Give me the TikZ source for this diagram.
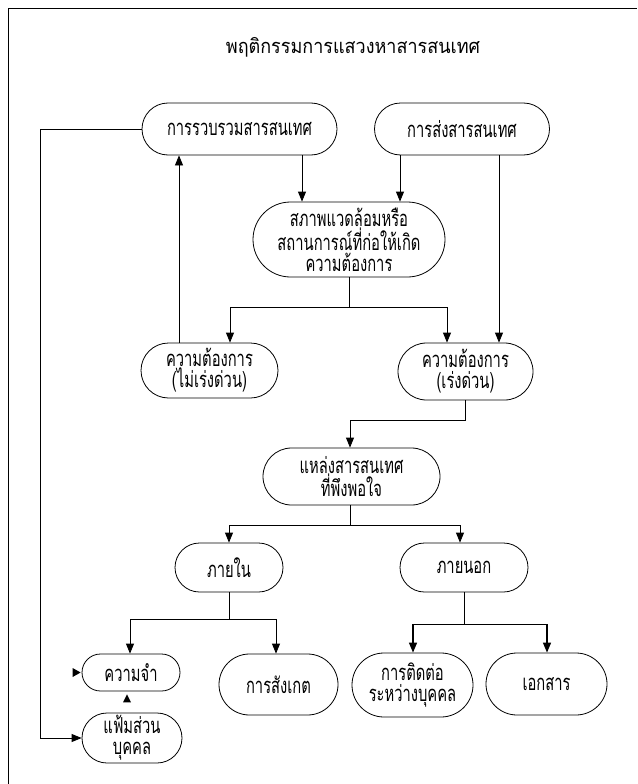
\documentclass[tikz,border=0pt]{standalone}
\usepackage{fontspec}
\newfontfamily\thaifont[Script=Thai,FakeStretch=0.67]{Loma}
\newfontfamily\thaititle[Script=Thai,FakeStretch=0.9]{Loma}
\usetikzlibrary{shapes.misc,arrows.meta,calc}
\begin{document}
\begin{tikzpicture}[x=1pt,y=-1pt,
  box/.style={draw,line width=0.8pt,rounded rectangle,font=\thaifont\fontsize{22}{21}\selectfont,align=center,inner sep=0pt},
  arr/.style={-{Triangle[length=10pt,width=8pt]},line width=0.8pt},
  ln/.style={line width=0.8pt},
  tri/.style={fill=black}]
\useasboundingbox (0,0) rectangle (637,784);
\draw[ln] (8,784) -- (8,8) -- (637,8);
\node[font=\thaititle\fontsize{20}{23}\selectfont] (T) at (353,47) {พฤติกรรมการแสวงหาสารสนเทศ};
\node[box,minimum width=195pt,minimum height=52pt] (A) at (239.5,129) {การรวบรวมสารสนเทศ};
\node[box,minimum width=175pt,minimum height=52pt] (B) at (462,129) {การส่งสารสนเทศ};
\node[box,minimum width=192pt,minimum height=75pt] (C) at (349,239.5) {สภาพแวดล้อมหรือ\\สถานการณ์ที่ก่อให้เกิด\\ความต้องการ};
\node[box,minimum width=137pt,minimum height=55pt] (D) at (209.5,370.5) {ความต้องการ\\(ไม่เร่งด่วน)};
\node[box,minimum width=135pt,minimum height=57pt] (E) at (465.5,371.5) {ความต้องการ\\(เร่งด่วน)};
\node[box,minimum width=177pt,minimum height=57pt] (F) at (351.5,476.5) {แหล่งสารสนเทศ\\ที่พึงพอใจ};
\node[box,minimum width=108pt,minimum height=49pt] (G) at (229,567.5) {ภายใน};
\node[box,minimum width=128pt,minimum height=49pt] (H) at (464,567.5) {ภายนอก};
\node[box,minimum width=98pt,minimum height=37pt] (I) at (131,672.5) {ความจำ};
\node[box,minimum width=119pt,minimum height=61pt] (J) at (278.5,684.5) {การสังเกต};
\node[box,minimum width=121pt,minimum height=64pt] (K) at (412.5,685) {การติดต่อ\\ระหว่างบุคคล};
\node[box,minimum width=121pt,minimum height=62pt] (L) at (546.5,684) {เอกสาร};
\node[box,minimum width=100pt,minimum height=50pt] (M) at (132,738) {แฟ้มส่วน\\บุคคล};
% connectors
\draw[arr] ([xshift=62.5pt]A.south) -- ([xshift=62.5pt]A.south |- C.north);
\draw[arr] ([xshift=-62pt]B.south) -- ([xshift=-62pt]B.south |- C.north);
\draw[arr] ([xshift=37pt]B.south) -- ([xshift=37pt]B.south |- E.north);
\coordinate (c1) at ($(C.south)+(0,30)$);
\draw[ln] (C.south) -- (c1);
\draw[arr] (c1) -| ([xshift=20.5pt]D.north);
\draw[arr] (c1) -| ([xshift=-18.5pt]E.north);
\draw[arr] ([xshift=-30.5pt]D.north) -- ([xshift=-30.5pt]D.north |- A.south);
\coordinate (l1) at (40,129);
\coordinate (l2) at (40,738);
\draw[arr] (A.west) -- (l1) -- (l2) -- (M.west);
\coordinate (e1) at ($(E.south)+(0,20)$);
\draw[arr] (E.south) -- (e1) -| ([xshift=-1.5pt]F.north);
\coordinate (f1) at ($(F.south)+(-1.5,20)$);
\draw[ln] ([xshift=-1.5pt]F.south) -- (f1);
\draw[arr] (f1) -| (G.north);
\draw[arr] (f1) -| ([xshift=-4pt]H.north);
\coordinate (g1) at ($(G.south)+(0,26.5)$);
\draw[ln] (G.south) -- (g1);
\draw[arr] (g1) -| ([xshift=-1pt]I.north);
\draw[arr] (g1) -| ([xshift=-2.5pt]J.north);
\coordinate (h1) at ($(H.south)+(0,32)$);
\draw[ln] (H.south) -- (h1);
\draw[arr,line width=1.4pt] (h1) -| ([xshift=0.5pt]K.north);
\draw[arr,line width=1.4pt] (h1) -| ([xshift=0.5pt]L.north);
% stray arrowheads
\fill[tri] ($(I.west)+(-9,-4.5)$) -- ($(I.west)+(-1,0)$) -- ($(I.west)+(-9,4.5)$) -- cycle;
\fill[tri] ($(I.south)+(-8,11)$) -- ($(I.south)+(-4,3)$) -- ($(I.south)+(0,11)$) -- cycle;
\end{tikzpicture}
\end{document}
